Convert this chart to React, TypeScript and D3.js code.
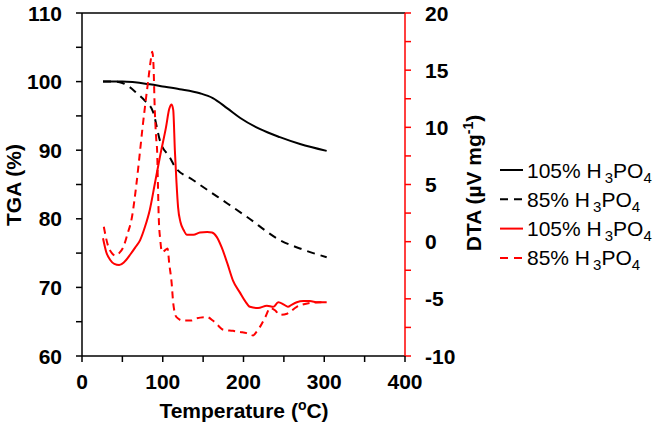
import React from "react";
import * as d3 from "d3";

const xTicks = [0, 100, 200, 300, 400];
const xMinor = [50, 150, 250, 350];
const tgaTicks = [60, 70, 80, 90, 100, 110];
const tgaMinor = [65, 75, 85, 95, 105];
const dtaTicks = [-10, -5, 0, 5, 10, 15, 20];
const dtaMinor = [-7.5, -2.5, 2.5, 7.5, 12.5, 17.5];

const tga105T = [26, 50, 84, 100, 121, 146, 162, 180, 196, 220, 245, 270, 303];
const tga105V = [100.0, 100.0, 99.6, 99.3, 98.9, 98.3, 97.6, 96.1, 94.7, 93.1, 91.9, 90.9, 89.9];

const tga85T = [26, 40, 50, 59, 68, 78, 88, 97, 109, 115, 137, 168, 204, 245, 274, 303];
const tga85V = [100.0, 100.0, 99.8, 99.2, 98.3, 97.2, 95.6, 91.2, 88.9, 87.6, 85.7, 83.2, 80.3, 76.9, 75.5, 74.4];

const dta105T = [26, 30, 35, 40, 46, 52, 60, 66, 72, 78, 84, 90, 97, 104, 108, 111, 113, 115, 117, 119, 122, 126, 130, 138, 146, 155, 161, 167, 173, 180, 187, 196, 202, 208, 218, 229, 237, 243, 250, 255, 260, 266, 274, 282, 292, 303];
const dta105V = [0.3, -0.9, -1.6, -1.95, -2.05, -1.8, -1.1, -0.5, 0.14, 1.3, 2.8, 5.0, 7.6, 10.0, 11.6, 12.0, 11.5, 8.0, 5.2, 3.0, 1.7, 1.0, 0.6, 0.6, 0.8, 0.85, 0.8, 0.4, -0.5, -1.9, -3.4, -4.5, -5.2, -5.7, -5.8, -5.6, -5.7, -5.3, -5.5, -5.7, -5.5, -5.3, -5.2, -5.2, -5.3, -5.3];

const dta85T = [27, 32, 37, 41, 46, 51, 56, 62, 67, 72, 75, 78, 82, 85, 87, 88.5, 90, 92, 93, 94, 95, 97, 99, 102, 106, 108, 111, 113, 117, 125, 135, 142, 155, 162, 168, 175, 187, 196, 204, 212, 216, 220, 227, 233, 239, 245, 254, 266, 279, 295, 301];
const dta85V = [1.3, -0.3, -1.0, -1.2, -1.0, -0.5, 0.6, 2.2, 4.8, 8.0, 10.0, 11.8, 14.1, 15.8, 16.6, 15.5, 11.8, 8.9, 8.0, 5.1, 2.2, 0.1, -0.9, -0.8, -0.6, -1.9, -3.6, -5.4, -6.6, -6.9, -6.9, -6.7, -6.6, -6.9, -7.3, -7.7, -7.8, -7.9, -8.0, -8.2, -7.9, -7.5, -6.6, -5.8, -6.0, -6.4, -6.3, -5.7, -5.4, -5.3, -5.4];

const legendItems = [
  { pct: "105%", color: "#000", dash: "" },
  { pct: "85%", color: "#000", dash: "8,6" },
  { pct: "105%", color: "#ff0000", dash: "" },
  { pct: "85%", color: "#ff0000", dash: "8,6" },
];

const W = 658, H = 426;
const L = 82, R = 405, T = 13, B = 356;

export default function App() {
  const x = d3.scaleLinear().domain([0, 400]).range([L, R]);
  const yL = d3.scaleLinear().domain([60, 110]).range([B, T]);
  const yR = d3.scaleLinear().domain([-10, 20]).range([B, T]);

  const mk = (xs: number[], ys: number[], ys2: d3.ScaleLinear<number, number>) =>
    d3.line<number>().x((_, i) => x(xs[i])).y((_, i) => ys2(ys[i])).curve(d3.curveMonotoneX)(xs) || "";

  const font = "Liberation Sans, Arial, sans-serif";
  const tickFs = 21;

  return (
    <svg width={W} height={H} style={{ position: "absolute", left: 0, top: 0, background: "#fff" }} fontFamily={font}>
      <rect width={W} height={H} fill="#fff" />
      {/* curves */}
      <path d={mk(tga105T, tga105V, yL)} fill="none" stroke="#000" strokeWidth={2} />
      <path d={mk(tga85T, tga85V, yL)} fill="none" stroke="#000" strokeWidth={2} strokeDasharray="8,6" />
      <path d={mk(dta105T, dta105V, yR)} fill="none" stroke="#ff0000" strokeWidth={2} />
      <path d={mk(dta85T, dta85V, yR)} fill="none" stroke="#ff0000" strokeWidth={2} strokeDasharray="7,5" />

      {/* frame */}
      <line x1={L} x2={R} y1={T} y2={T} stroke="#000" strokeWidth={1.5} />
      <line x1={L} x2={R} y1={B} y2={B} stroke="#000" strokeWidth={1.5} />
      <line x1={L} x2={L} y1={T} y2={B} stroke="#000" strokeWidth={1.5} />
      <line x1={R} x2={R} y1={T} y2={B} stroke="#ff0000" strokeWidth={1.5} />

      {/* left ticks */}
      {tgaTicks.concat(tgaMinor).map((v) => (
        <line key={"l" + v} x1={L - 6} x2={L} y1={yL(v)} y2={yL(v)} stroke="#000" strokeWidth={1.5} />
      ))}
      {tgaTicks.map((v) => (
        <text key={"lt" + v} x={62} y={yL(v)} dy="0.36em" textAnchor="end" fontSize={tickFs} fontWeight="bold">{v}</text>
      ))}
      {/* right ticks */}
      {dtaTicks.concat(dtaMinor).map((v) => (
        <line key={"r" + v} x1={R} x2={R + 6} y1={yR(v)} y2={yR(v)} stroke="#ff0000" strokeWidth={1.5} />
      ))}
      {dtaTicks.map((v) => (
        <text key={"rt" + v} x={425} y={yR(v)} dy="0.36em" textAnchor="start" fontSize={tickFs} fontWeight="bold">{v}</text>
      ))}
      {/* x ticks */}
      {xTicks.concat(xMinor).map((v) => (
        <line key={"x" + v} x1={x(v)} x2={x(v)} y1={B} y2={B + 6} stroke="#000" strokeWidth={1.5} />
      ))}
      {xTicks.map((v) => (
        <text key={"xt" + v} x={x(v)} y={389} textAnchor="middle" fontSize={tickFs} fontWeight="bold">{v}</text>
      ))}

      {/* axis titles */}
      <text x={244} y={418} textAnchor="middle" fontSize={21} fontWeight="bold">
        Temperature (<tspan fontSize={14} dy={-8}>o</tspan><tspan dy={8}>C)</tspan>
      </text>
      <text transform="translate(21,185) rotate(-90)" textAnchor="middle" fontSize={21} fontWeight="bold">TGA (%)</text>
      <text transform="translate(481,183) rotate(-90)" textAnchor="middle" fontSize={21} fontWeight="bold">
        DTA (µV mg<tspan fontSize={14} dy={-8}>-1</tspan><tspan dy={8}>)</tspan>
      </text>

      {/* legend */}
      {legendItems.map((it, i) => {
        const cy = 170 + i * 29.3;
        return (
          <g key={"lg" + i}>
            <line x1={500} x2={523} y1={cy} y2={cy} stroke={it.color} strokeWidth={2} strokeDasharray={it.dash} />
            <text x={527} y={cy + 7.5} fontSize={21}>
              {it.pct} H<tspan dx={3} dy={5} fontSize={15}>3</tspan><tspan dy={-5}>PO</tspan><tspan dy={5} fontSize={15}>4</tspan>
            </text>
          </g>
        );
      })}
    </svg>
  );
}
